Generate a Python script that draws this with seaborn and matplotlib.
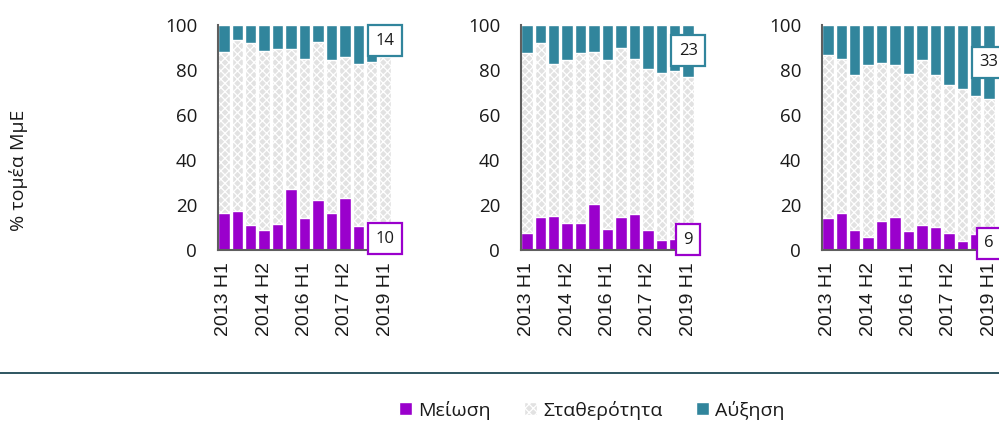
import numpy as np
import pandas as pd
import matplotlib
matplotlib.use("Agg")
import matplotlib.pyplot as plt
from matplotlib.patches import Patch
from matplotlib.lines import Line2D
import seaborn as sns

# =========================
# DATA
# =========================

periods = ["2013 H1", "2013 H2", "2014 H1", "2014 H2", "2015 H1", "2015 H2", "2016 H1",
           "2016 H2", "2017 H1", "2017 H2", "2018 H1", "2018 H2", "2019 H1"]
shown_ticks = ["2013 H1", "2014 H2", "2016 H1", "2017 H2", "2019 H1"]

decrease_1 = [16.3, 17.3, 11.1, 9.0, 11.4, 27.1, 14.4, 22.2, 16.4, 23.3, 10.8, 12.9, 10]
increase_1 = [12.1, 6.8, 8.1, 11.7, 10.8, 10.5, 15.0, 7.7, 15.4, 14.1, 17.3, 16.3, 14]

decrease_2 = [7.4, 14.8, 15.3, 12.1, 12.1, 20.3, 9.2, 14.8, 16.1, 8.9, 4.6, 4.7, 9]
increase_2 = [12.6, 8.0, 17.2, 15.6, 12.3, 12.1, 15.7, 10.2, 15.1, 19.6, 21.3, 20.5, 23]

decrease_3 = [14.2, 16.4, 8.7, 5.9, 12.7, 14.8, 8.6, 11.3, 10.4, 7.7, 3.9, 7.3, 6]
increase_3 = [13.5, 15.3, 22.2, 17.9, 16.9, 17.6, 21.9, 15.7, 22.2, 26.5, 28.6, 31.6, 33]

series_names = ["Μείωση", "Σταθερότητα", "Αύξηση"]

# =========================
# STYLE
# =========================

PURPLE = "#9A00CC"
GREY = "#E2E2E2"
TEAL = "#31859C"
SPINE = "#5f5f5f"
TEXT = "#1a1a1a"

sns.set_style("white")
plt.rcParams["font.family"] = ["Open Sans", "DejaVu Sans"]
plt.rcParams["hatch.linewidth"] = 0.9
plt.rcParams["text.color"] = TEXT
plt.rcParams["xtick.color"] = TEXT
plt.rcParams["ytick.color"] = TEXT

fig = plt.figure(figsize=(9.99, 4.21), dpi=100)

lefts = [218 / 999, 521 / 999, 822 / 999]
panels = [(decrease_1, increase_1), (decrease_2, increase_2), (decrease_3, increase_3)]

# =========================
# PANELS
# =========================

for left, (dec, inc) in zip(lefts, panels):
    ax = fig.add_axes([left, 171 / 421, 173 / 999, 225 / 421])
    df = pd.DataFrame({"period": periods, "dec": dec, "inc": inc})
    df["stab"] = 100 - df["dec"] - df["inc"]
    df["total"] = 100.0
    df["dec_stab"] = df["dec"] + df["stab"]

    common = dict(x="period", order=periods, ax=ax, width=0.85, saturation=1,
                  edgecolor="white", linewidth=1.0, errorbar=None)
    sns.barplot(data=df, y="total", color=TEAL, **common)
    sns.barplot(data=df, y="dec_stab", color=GREY, hatch="xxxx", **common)
    sns.barplot(data=df, y="dec", color=PURPLE, **common)

    ax.set_xlim(-0.43, 12.43)
    ax.set_ylim(0, 100)
    ax.set_yticks([0, 20, 40, 60, 80, 100])
    ax.tick_params(axis="y", length=0, pad=15, labelsize=13.5)
    ax.set_xticks([periods.index(p) for p in shown_ticks])
    ax.set_xticklabels(shown_ticks, rotation=90, fontsize=14, family="Liberation Sans")
    ax.tick_params(axis="x", length=0, pad=9)
    ax.set_xlabel("")
    ax.set_ylabel("")
    for s in ["top", "right"]:
        ax.spines[s].set_visible(False)
    for s in ["left", "bottom"]:
        ax.spines[s].set_color(SPINE)
        ax.spines[s].set_linewidth(1.5)

    # boxed labels for the latest values
    last = len(periods) - 1
    ax.text(last, 100 - inc[-1] / 2, f"{inc[-1]:g}", ha="center", va="center",
            fontsize=12, clip_on=False, zorder=5,
            bbox=dict(boxstyle="square,pad=0.45", fc="white", ec=TEAL, lw=1.6))
    ax.text(last, dec[-1] / 2, f"{dec[-1]:g}", ha="center", va="center",
            fontsize=12, clip_on=False, zorder=5,
            bbox=dict(boxstyle="square,pad=0.45", fc="white", ec=PURPLE, lw=1.6))

# =========================
# LABELS / LEGEND
# =========================

fig.text(19 / 999, 1 - 170 / 421, "% τομέα ΜμΕ", rotation=90, ha="center", va="center",
         fontsize=14)

fig.add_artist(Line2D([0, 1], [1 - 373 / 421, 1 - 373 / 421], color="#2E5560", lw=1.4))

handles = [
    Patch(facecolor=PURPLE, edgecolor="white"),
    Patch(facecolor=GREY, edgecolor="white", hatch="xxxx"),
    Patch(facecolor=TEAL, edgecolor="white"),
]
fig.legend(handles, series_names, loc="center", bbox_to_anchor=(592 / 999, 1 - 410 / 421),
           ncol=3, frameon=False, fontsize=14, handlelength=0.65, handleheight=0.65,
           handletextpad=0.35, columnspacing=1.7)

fig.savefig("out.png", dpi=100)
